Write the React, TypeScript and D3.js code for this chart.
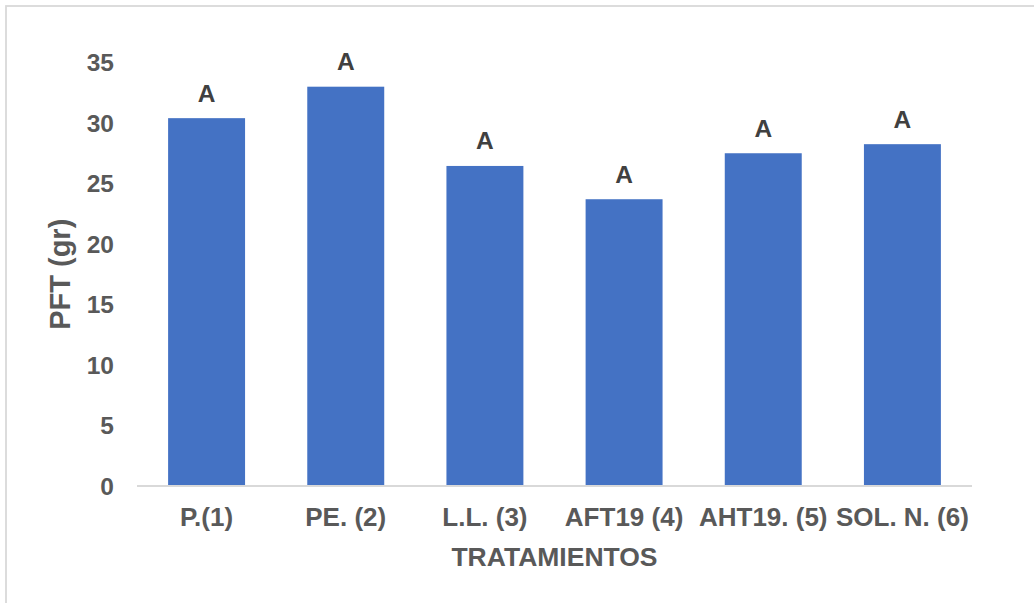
import React from "react";
import * as d3 from "d3";

// Treatments and their mean PFT (fresh total weight, grams)
const categories = ["P.(1)", "PE. (2)", "L.L. (3)", "AFT19 (4)", "AHT19. (5)", "SOL. N. (6)"];
const values = [30.4, 33.0, 26.45, 23.7, 27.5, 28.25];
const groups = ["A", "A", "A", "A", "A", "A"];
const yTicks = [0, 5, 10, 15, 20, 25, 30, 35];

const W = 1034;
const H = 603;
const FONT = "'Liberation Sans', Arial, Helvetica, sans-serif";

export default function App() {
  const x = d3
    .scaleBand<string>()
    .domain(categories)
    .range([137, 972])
    .paddingInner(0.447)
    .paddingOuter(0.2235);
  const y = d3.scaleLinear().domain([0, 35]).range([486, 62.5]);

  return (
    <svg
      width={W}
      height={H}
      style={{ position: "absolute", left: 0, top: 0, display: "block" }}
      fontFamily={FONT}
    >
      <rect x={0} y={0} width={W} height={H} fill="#ffffff" />
      {/* chart frame */}
      <rect x={6} y={6} width={W + 20} height={H + 20} fill="none" stroke="#d9d9d9" strokeWidth={1.8} />

      {/* y tick labels */}
      {yTicks.map((t) => (
        <text
          key={t}
          x={114}
          y={y(t)}
          textAnchor="end"
          dominantBaseline="central"
          fontSize={24.5}
          fontWeight="bold"
          fill="#595959"
        >
          {t}
        </text>
      ))}

      {/* bars */}
      {categories.map((c, i) => (
        <rect
          key={c}
          x={x(c)!}
          y={y(values[i])}
          width={x.bandwidth()}
          height={y(0) - y(values[i])}
          fill="#4472c4"
        />
      ))}

      {/* significance letters */}
      {categories.map((c, i) => (
        <text
          key={c + "-g"}
          x={x(c)! + x.bandwidth() / 2}
          y={y(values[i]) - 16.5}
          textAnchor="middle"
          fontSize={24.5}
          fontWeight="bold"
          fill="#404040"
        >
          {groups[i]}
        </text>
      ))}

      {/* baseline */}
      <line x1={137} x2={972} y1={y(0)} y2={y(0)} stroke="#d9d9d9" strokeWidth={2} />

      {/* category labels */}
      {categories.map((c) => (
        <text
          key={c + "-l"}
          x={x(c)! + x.bandwidth() / 2}
          y={526}
          textAnchor="middle"
          fontSize={26}
          fontWeight="bold"
          fill="#595959"
        >
          {c}
        </text>
      ))}

      {/* axis titles */}
      <text
        x={554.5}
        y={566}
        textAnchor="middle"
        fontSize={26.5}
        fontWeight="bold"
        fill="#595959"
      >
        TRATAMIENTOS
      </text>
      <text
        transform={`translate(70, ${(y(0) + y(35)) / 2}) rotate(-90)`}
        textAnchor="middle"
        fontSize={29}
        fontWeight="bold"
        fill="#595959"
      >
        PFT (gr)
      </text>
    </svg>
  );
}
